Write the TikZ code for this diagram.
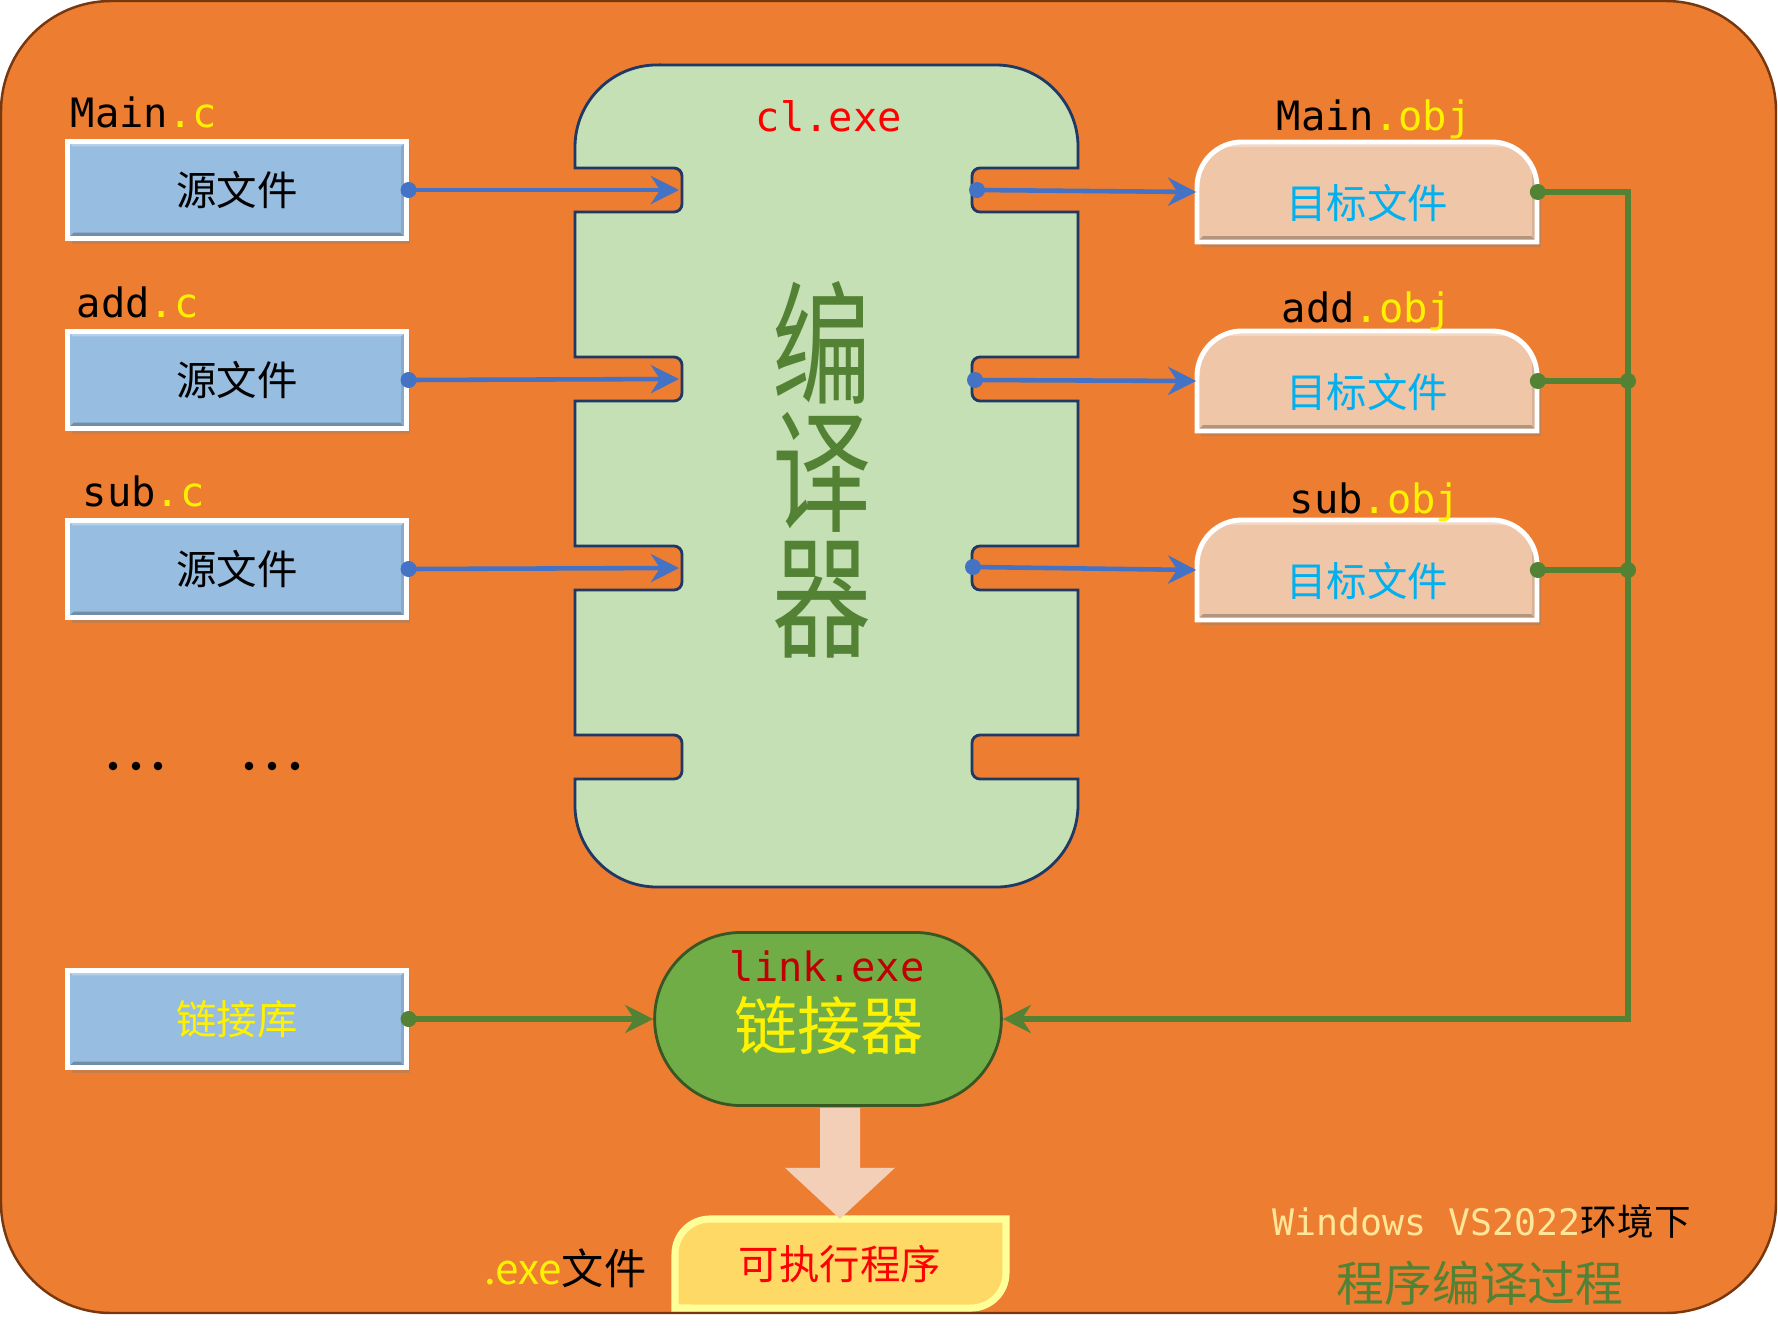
\documentclass[tikz,border=0pt]{standalone}
\usepackage{fontspec}
\setmainfont{Noto Sans CJK SC}
\setmonofont{DejaVu Sans Mono}
\usepackage{xcolor}
\usepackage{tikz}
\usetikzlibrary{shapes.misc, arrows.meta, positioning, calc, shadows}
\definecolor{bgorange}{RGB}{237, 125, 49}
\definecolor{bgedge}{RGB}{120, 55, 12}
\definecolor{compfill}{RGB}{197, 224, 180}
\definecolor{compedge}{RGB}{31, 56, 100}
\definecolor{srcblue}{RGB}{151, 189, 225}
\definecolor{flowblue}{RGB}{68, 114, 196}
\definecolor{objpeach}{RGB}{240, 198, 168}
\definecolor{objcyan}{RGB}{0, 176, 240}
\definecolor{darkgreen}{RGB}{84, 130, 53}
\definecolor{linkgreen}{RGB}{112, 173, 71}
\definecolor{linkedge}{RGB}{56, 87, 35}
\definecolor{linkred}{RGB}{192, 0, 0}
\definecolor{paleyellow}{RGB}{255, 230, 153}
\definecolor{exefill}{RGB}{255, 217, 102}
\definecolor{exeedge}{RGB}{255, 255, 153}
\definecolor{bigpeach}{RGB}{243, 207, 184}
\tikzstyle{bevel} = [path picture={
    \fill[black, opacity=0.25] (path picture bounding box.south west) -- (path picture bounding box.south east) -- ([xshift=-0.06cm, yshift=0.06cm]path picture bounding box.south east) -- ([xshift=0.06cm, yshift=0.06cm]path picture bounding box.south west) -- cycle;
    \fill[white, opacity=0.3] (path picture bounding box.north west) -- (path picture bounding box.north east) -- ([xshift=-0.05cm, yshift=-0.05cm]path picture bounding box.north east) -- ([xshift=0.05cm, yshift=-0.05cm]path picture bounding box.north west) -- cycle;
    \fill[black, opacity=0.1] (path picture bounding box.north east) -- (path picture bounding box.south east) -- ([xshift=-0.05cm, yshift=0.06cm]path picture bounding box.south east) -- ([xshift=-0.05cm, yshift=-0.05cm]path picture bounding box.north east) -- cycle;}]
\tikzstyle{filebox} = [rectangle, minimum width=3.38cm, minimum height=0.97cm, draw=white, line width=1.4pt, fill=srcblue, bevel, drop shadow={shadow xshift=0.04cm, shadow yshift=-0.05cm, opacity=0.35}, font=\fontsize{11.5}{12}\selectfont]
\tikzstyle{objshape} = [draw=white, line width=1.4pt, fill=objpeach, bevel, drop shadow={shadow xshift=0.04cm, shadow yshift=-0.05cm, opacity=0.35}]
\tikzstyle{objbox} = [rectangle, minimum width=3.4cm, minimum height=1cm, text height=15pt, text depth=0pt, text=objcyan, font=\fontsize{11.5}{12}\selectfont]
\tikzstyle{filelabel} = [anchor=base west, inner sep=0pt, font=\ttfamily\fontsize{11.5}{12}\selectfont]
\tikzstyle{compshape} = [draw=compedge, fill=compfill, line width=0.8pt]
\tikzstyle{linkerbox} = [rounded rectangle, minimum width=3.7cm, minimum height=1.73cm, draw=linkedge, fill=linkgreen, line width=0.8pt]
\tikzstyle{exeshape} = [draw=exeedge, fill=exefill, line width=2pt]
\tikzstyle{bluearrow} = [flowblue, line width=1.3pt, -{Stealth[length=8pt, width=8pt]}]
\tikzstyle{greenarrow} = [darkgreen, line width=1.7pt, -{Stealth[length=8pt, width=8pt]}]
\tikzstyle{greenline} = [darkgreen, line width=1.7pt]
\begin{document}
\begin{tikzpicture}[x=0.01cm, y=-0.01cm]
    \useasboundingbox (0,0) rectangle (1778,1336);
    \fill[white] (0,0) rectangle (1778,1336);
    \draw[bgedge, fill=bgorange, line width=0.7pt, rounded corners=1.1cm] (1,1) rectangle (1776,1313);

    % Compiler body with the notches
    \draw[compshape] (657,65) -- (996,65) arc[start angle=90, end angle=0, radius=0.82cm]
        -- (1078,168) -- (980,168) arc[start angle=90, end angle=180, radius=0.08cm] -- (972,204) arc[start angle=180, end angle=270, radius=0.08cm] -- (1078,212)
        -- (1078,357) -- (980,357) arc[start angle=90, end angle=180, radius=0.08cm] -- (972,393) arc[start angle=180, end angle=270, radius=0.08cm] -- (1078,401)
        -- (1078,546) -- (980,546) arc[start angle=90, end angle=180, radius=0.08cm] -- (972,582) arc[start angle=180, end angle=270, radius=0.08cm] -- (1078,590)
        -- (1078,735) -- (980,735) arc[start angle=90, end angle=180, radius=0.08cm] -- (972,771) arc[start angle=180, end angle=270, radius=0.08cm] -- (1078,779)
        -- (1078,805) arc[start angle=0, end angle=-90, radius=0.82cm] -- (657,887) arc[start angle=270, end angle=180, radius=0.82cm]
        -- (575,779) -- (674,779) arc[start angle=270, end angle=360, radius=0.08cm] -- (682,743) arc[start angle=0, end angle=90, radius=0.08cm] -- (575,735)
        -- (575,590) -- (674,590) arc[start angle=270, end angle=360, radius=0.08cm] -- (682,554) arc[start angle=0, end angle=90, radius=0.08cm] -- (575,546)
        -- (575,401) -- (674,401) arc[start angle=270, end angle=360, radius=0.08cm] -- (682,365) arc[start angle=0, end angle=90, radius=0.08cm] -- (575,357)
        -- (575,212) -- (674,212) arc[start angle=270, end angle=360, radius=0.08cm] -- (682,176) arc[start angle=0, end angle=90, radius=0.08cm] -- (575,168)
        -- (575,147) arc[start angle=180, end angle=90, radius=0.82cm] -- cycle;
    \node[anchor=base west, inner sep=0pt, text=red, font=\ttfamily\fontsize{11.5}{12}\selectfont] (clname) at (755,131) {cl.exe};
    \node[text=darkgreen, align=center, xscale=0.74, font=\fontsize{38}{36}\selectfont] (compname) at (822,470) {编\\译\\器};
    \coordinate (inmain) at (679,190);
    \coordinate (inadd) at (679,379);
    \coordinate (insub) at (679,568);
    \coordinate (outmain) at (977,190);
    \coordinate (outadd) at (975,380);
    \coordinate (outsub) at (973,567);

    % Source files
    \node[filebox] (srcmain) at (237,190) {源文件};
    \node[filebox] (srcadd) at (237,380) {源文件};
    \node[filebox] (srcsub) at (237,569) {源文件};
    \node[filelabel] (mainc) at (70,127) {Main{\color{yellow}.c}};
    \node[filelabel] (addc) at (76,317) {add{\color{yellow}.c}};
    \node[filelabel] (subc) at (82,506) {sub{\color{yellow}.c}};
    \fill (113,766) circle (0.043cm) (136,766) circle (0.043cm) (158,766) circle (0.043cm);
    \fill (249,766) circle (0.043cm) (272,766) circle (0.043cm) (295,766) circle (0.043cm);

    % Object files
    \draw[objshape] (1197,242) -- (1197,187) arc[start angle=180, end angle=90, radius=0.45cm] -- (1492,142) arc[start angle=90, end angle=0, radius=0.45cm] -- (1537,242) -- cycle;
    \draw[objshape] (1197,431) -- (1197,376) arc[start angle=180, end angle=90, radius=0.45cm] -- (1492,331) arc[start angle=90, end angle=0, radius=0.45cm] -- (1537,431) -- cycle;
    \draw[objshape] (1197,620) -- (1197,565) arc[start angle=180, end angle=90, radius=0.45cm] -- (1492,520) arc[start angle=90, end angle=0, radius=0.45cm] -- (1537,620) -- cycle;
    \node[objbox] (objmain) at (1367,192) {目标文件};
    \node[objbox] (objadd) at (1367,381) {目标文件};
    \node[objbox] (objsub) at (1367,570) {目标文件};
    \node[filelabel] (mainobj) at (1276,130) {Main{\color{yellow}.obj}};
    \node[filelabel] (addobj) at (1281,322) {add{\color{yellow}.obj}};
    \node[filelabel] (subobj) at (1289,513) {sub{\color{yellow}.obj}};

    % Compile arrows
    \draw[bluearrow] (srcmain.east) -- (inmain);
    \draw[bluearrow] (srcadd.east) -- (inadd);
    \draw[bluearrow] (srcsub.east) -- (insub);
    \draw[bluearrow] (outmain) -- (objmain.west);
    \draw[bluearrow] (outadd) -- (objadd.west);
    \draw[bluearrow] (outsub) -- (objsub.west);
    \fill[flowblue] (srcmain.east) circle (0.08cm) (srcadd.east) circle (0.08cm) (srcsub.east) circle (0.08cm);
    \fill[flowblue] (outmain) circle (0.08cm) (outadd) circle (0.08cm) (outsub) circle (0.08cm);

    % Linker
    \node[filebox, text=yellow] (linklib) at (237,1019) {链接库};
    \node[linkerbox] (linker) at (828,1019) {};
    \node[anchor=base west, inner sep=0pt, text=linkred, font=\ttfamily\fontsize{11.5}{12}\selectfont] (linkexe) at (729,981) {link.exe};
    \node[text=yellow, font=\fontsize{18}{18}\selectfont] (linkname) at (829,1025) {链接器};
    \coordinate (busend) at (1628,1019);
    \draw[greenarrow] (linklib.east) -- (linker.west);
    \draw[greenarrow] (objmain.east) -| (busend) -- (linker.east);
    \draw[greenline] (objadd.east) -- (objadd.east -| busend);
    \draw[greenline] (objsub.east) -- (objsub.east -| busend);
    \fill[darkgreen] (linklib.east) circle (0.08cm) (objmain.east) circle (0.08cm) (objadd.east) circle (0.08cm) (objsub.east) circle (0.08cm);
    \fill[darkgreen] (objadd.east -| busend) circle (0.08cm) (objsub.east -| busend) circle (0.08cm);

    % Executable
    \draw[exeshape] (675,1308) -- (675,1254) arc[start angle=180, end angle=90, radius=0.35cm] -- (1006,1219) -- (1006,1273) arc[start angle=0, end angle=-90, radius=0.35cm] -- cycle;
    \node[rectangle, minimum width=3.31cm, minimum height=0.89cm, text=red, font=\fontsize{11.5}{12}\selectfont] (exebox) at (840,1264) {可执行程序};
    \fill[bigpeach, shift={(exebox.north)}] (-20,-111) -- (20,-111) -- (20,-51) -- (55,-51) -- (0,0) -- (-55,-51) -- (-20,-51) -- cycle;
    \node[anchor=base east, inner sep=0pt, font=\fontsize{12}{12}\selectfont] (exelabel) at (647,1284) {{\color{yellow}.exe}文件};

    % Caption
    \node[anchor=base west, inner sep=0pt, font=\fontsize{10.4}{11}\selectfont] (envlabel) at (1272,1235) {{\ttfamily\color{paleyellow}Windows VS2022}环境下};
    \node[anchor=base, inner sep=0pt, text=darkgreen, font=\fontsize{13.6}{14}\selectfont] (title) at (1480,1301) {程序编译过程};
\end{tikzpicture}
\end{document}
